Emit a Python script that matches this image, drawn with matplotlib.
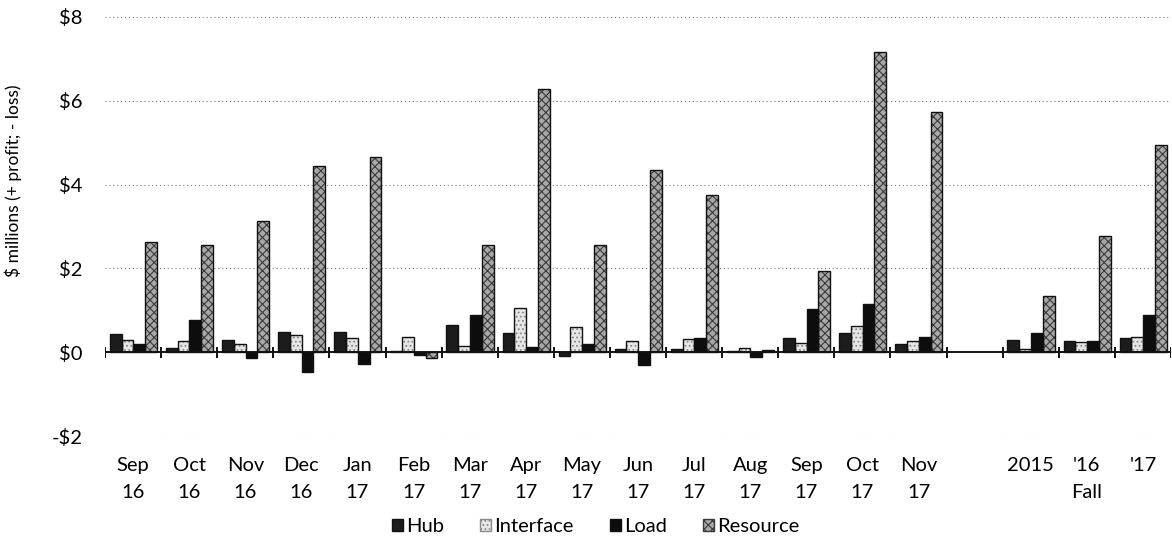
import numpy as np
import matplotlib.pyplot as plt
from matplotlib.patches import Patch

plt.rcParams['font.family'] = ['Lato', 'DejaVu Sans']
plt.rcParams['hatch.linewidth'] = 0.8

# Categorias: 15 meses, un hueco y los totales de otoño
categorias = ['Sep\n16', 'Oct\n16', 'Nov\n16', 'Dec\n16', 'Jan\n17', 'Feb\n17',
              'Mar\n17', 'Apr\n17', 'May\n17', 'Jun\n17', 'Jul\n17', 'Aug\n17',
              'Sep\n17', 'Oct\n17', 'Nov\n17', '', '2015', "'16\nFall", "'17"]

hub       = [0.43, 0.09, 0.28, 0.49, 0.49, 0.02, 0.66, 0.45, -0.08, 0.07,
             0.08, 0.02, 0.34, 0.45, 0.20, np.nan, 0.30, 0.26, 0.33]
interface = [0.28, 0.27, 0.19, 0.40, 0.35, 0.37, 0.14, 1.05, 0.60, 0.27,
             0.32, 0.11, 0.22, 0.63, 0.26, np.nan, 0.08, 0.24, 0.36]
load      = [0.20, 0.77, -0.15, -0.47, -0.27, -0.07, 0.89, 0.12, 0.19, -0.31,
             0.35, -0.12, 1.03, 1.16, 0.37, np.nan, 0.46, 0.26, 0.88]
resource  = [2.64, 2.55, 3.12, 4.44, 4.66, -0.15, 2.57, 6.27, 2.56, 4.36,
             3.76, 0.06, 1.94, 7.17, 5.74, np.nan, 1.33, 2.77, 4.95]

y_ticks = [-2, 0, 2, 4, 6, 8]
y_labels = ['-$2', '$0', '$2', '$4', '$6', '$8']

# nombre, datos, relleno, color de trama, trama
series = [
    ('Hub',       hub,       '#1c1c1c', '#1c1c1c', None),
    ('Interface', interface, '#e6e6e6', '#8a8a8a', '....'),
    ('Load',      load,      '#0d0d0d', '#0d0d0d', None),
    ('Resource',  resource,  '#a8a8a8', '#3a3a3a', 'xxxx'),
]

fs = 14.5

fig = plt.figure(figsize=(11.72, 5.41), dpi=100)
ax = fig.add_axes([105 / 1172, 1 - 436 / 541, 1066 / 1172, 419 / 541])

x = np.arange(len(categorias))
ancho = 0.21
offsets = [-0.31, -0.1, 0.11, 0.32]

for (nombre, datos, color, color_trama, trama), off in zip(series, offsets):
    vals = np.array(datos, dtype=float)
    ax.bar(x + off, vals, ancho, color=color, edgecolor=color_trama,
           hatch=trama, linewidth=0, zorder=3)
    # contorno oscuro encima de la trama
    ax.bar(x + off, vals, ancho, fill=False, edgecolor='#111111',
           linewidth=1.0, zorder=4)

# lineas de referencia punteadas
for v in y_ticks:
    if v != 0:
        ax.axhline(v, color='#7a7a7a', lw=0.8, ls=(0, (1, 2.5)), zorder=1)

# eje cero con marcas entre categorias
ax.axhline(0, color='#111111', lw=1.4, zorder=5)
ax.vlines(np.arange(len(categorias) + 1) - 0.5, -0.13, 0.13,
          color='#111111', lw=1.4, zorder=5)

ax.set_xlim(-0.5, len(categorias) - 0.5)
ax.set_ylim(-2, 8)
ax.set_yticks(y_ticks)
ax.set_yticklabels(y_labels, fontsize=fs)
ax.set_xticks(x)
ax.set_xticklabels(categorias, fontsize=fs, linespacing=1.7, va='top')
ax.tick_params(axis='both', length=0)
ax.tick_params(axis='x', pad=15)
ax.tick_params(axis='y', pad=16)
for s in ax.spines.values():
    s.set_visible(False)

ax.set_ylabel('$ millions (+ profit; - loss)', fontsize=12.5)
ax.yaxis.set_label_coords(-0.078, 0.61)

handles = [Patch(facecolor=c, edgecolor=ec if h else '#111111', hatch=h, label=n)
           for n, _, c, ec, h in series]
fig.legend(handles=handles, loc='lower center', bbox_to_anchor=(0.508, -0.022),
           ncol=4, frameon=False, fontsize=fs, handlelength=0.55,
           handleheight=0.55, handletextpad=0.15, columnspacing=1.8)

fig.savefig('out.png', dpi=100)
